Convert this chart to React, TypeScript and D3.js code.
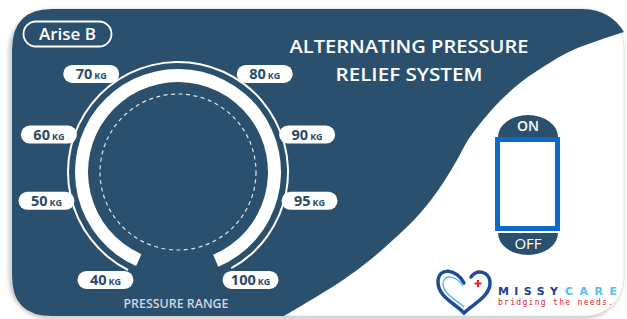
import React from 'react';
import * as d3 from 'd3';

// dial labels (kg)
const weights = ['40', '50', '60', '70', '80', '90', '95', '100'];
const unitLabel = 'KG';
const titleLines = ['ALTERNATING PRESSURE', 'RELIEF SYSTEM'];
const modelName = 'Arise B';
const dialCaption = 'PRESSURE RANGE';
const switchLabels = ['ON', 'OFF'];
const brandWords = ['MISSY', 'CARE'];
const brandTagline = 'bridging the needs.';

const W = 627;
const H = 319;
const navy = '#2b506e';
const labelInk = '#2c4a65';
const rad = (deg: number) => (deg * Math.PI) / 180;

// dial geometry
const cx = 178;
const cy = 172;
const angleScale = d3
  .scaleOrdinal<string, number>()
  .domain(weights)
  .range([-147.5, -103, -73, -40, 40, 73, 103, 147.5]);
const labelRx = 135;
const labelRy = 128;

// right edge of the dark area
const waveEdge: [number, number][] = [
  [624, 32], [573, 50], [543, 67], [520, 83], [501, 100], [483, 120],
  [468, 140], [457, 160], [445, 180], [431, 200], [414, 220], [393, 240],
  [370, 260], [343, 280], [311, 300], [284, 316],
];

const App = () => {
  const edge = d3.line().curve(d3.curveCatmullRom)(waveEdge) as string;
  const darkPath =
    'M12,50 Q12,9 52,9 L583,9 Q611,10 624,32 ' +
    edge.replace(/^M[^C]*/, '') +
    ' L52,316 Q12,316 12,276 Z';

  const thickArc = d3.arc()({
    innerRadius: 90,
    outerRadius: 103,
    startAngle: rad(-156),
    endAngle: rad(157),
  }) as string;
  const thinArc = d3.arc()({
    innerRadius: 109,
    outerRadius: 111,
    startAngle: rad(-153),
    endAngle: rad(151),
  }) as string;

  return (
    <svg
      width={W}
      height={H}
      viewBox={`0 0 ${W} ${H}`}
      style={{ position: 'absolute', left: 0, top: 0, background: '#fff' }}
      fontFamily="'Open Sans', sans-serif"
    >
      <defs>
        <filter id="shadow" x="-5%" y="-5%" width="110%" height="115%">
          <feDropShadow dx="-2" dy="2" stdDeviation="2" floodColor="#888" floodOpacity="0.55" />
        </filter>
      </defs>

      {/* panel body */}
      <rect x={12} y={9} width={612} height={307} rx={38} fill="#fff" stroke="#e2e2e2" filter="url(#shadow)" />
      <path d={darkPath} fill={navy} />

      {/* model badge */}
      <rect x={23.5} y={21.5} width={88} height={25} rx={12.5} fill="none" stroke="#fff" strokeWidth={1.8} />
      <text x={67.5} y={40} textAnchor="middle" fill="#fff" fontSize={17} fontWeight={600}>
        {modelName}
      </text>

      {/* title */}
      {titleLines.map((t, i) => (
        <text
          key={t}
          x={409}
          y={53 + i * 28}
          textAnchor="middle"
          fill="#fff"
          fontSize={18}
          fontWeight={600}
          textLength={i === 0 ? 239 : 147}
          lengthAdjust="spacingAndGlyphs"
        >
          {t}
        </text>
      ))}

      {/* dial */}
      <g transform={`translate(${cx},${cy})`}>
        <path d={thinArc} fill="#fff" />
        <path d={thickArc} fill="#fff" />
        <circle r={78} fill="none" stroke="#fff" strokeOpacity={0.85} strokeWidth={1.2} strokeDasharray="4 3.5" />
        {weights.map((w) => {
          const a = rad(angleScale(w));
          const x = labelRx * Math.sin(a);
          const y = -labelRy * Math.cos(a);
          return (
            <g key={w} transform={`translate(${x},${y})`}>
              <rect x={-28} y={-9} width={56} height={18} rx={9} fill="#fff" />
              <text y={5} textAnchor="middle" fill={labelInk} fontWeight={700}>
                <tspan fontSize={14.5}>{w}</tspan>
                <tspan fontSize={9} dx={2}>{unitLabel}</tspan>
              </text>
            </g>
          );
        })}
      </g>
      <text
        x={176}
        y={308}
        textAnchor="middle"
        fill="#cdd8e3"
        fontSize={12}
        fontWeight={600}
        textLength={105}
        lengthAdjust="spacingAndGlyphs"
      >
        {dialCaption}
      </text>

      {/* rocker switch */}
      <path d="M498,137 A30,22 0 0 1 558,137 Z" fill={navy} />
      <text x={528} y={131} textAnchor="middle" fill="#fff" fontSize={14} fontWeight={600}>
        {switchLabels[0]}
      </text>
      <rect x={497.5} y={139.5} width={60} height={89} fill="#fff" stroke="#0b6bc6" strokeWidth={5} />
      <path d="M498,233 A30,22 0 0 0 558,233 Z" fill={navy} />
      <text x={528} y={249} textAnchor="middle" fill="#fff" fontSize={15}>
        {switchLabels[1]}
      </text>

      {/* logo */}
      <g>
        <path
          d="M464,283 C457,269 438,266 438,282 C438,297 456,304 464,313 C473,304 491,296 490,282 C489,271 477,269 471,277"
          fill="none"
          stroke="#1d4c9b"
          strokeWidth={3.5}
          strokeLinecap="round"
        />
        <path
          d="M463,286 C457,276 443,273 443,284 C443,294 457,300 464,307"
          fill="none"
          stroke="#55b5e8"
          strokeWidth={1.4}
        />
        <path d="M478,280 v7 M474.5,283.5 h7" stroke="#e0202e" strokeWidth={2} />
        <text x={498} y={295} fill="#1b3f8c" fontSize={11} fontWeight={700} fontFamily="'DejaVu Sans', sans-serif" textLength={60} lengthAdjust="spacing">
          {brandWords[0]}
        </text>
        <text x={565} y={295} fill="#5bbde8" fontSize={11} fontWeight={700} fontFamily="'DejaVu Sans', sans-serif" textLength={52} lengthAdjust="spacing">
          {brandWords[1]}
        </text>
        <text x={498} y={305} fill="#d4283a" fontSize={8} fontFamily="'DejaVu Sans Mono', monospace" textLength={115} lengthAdjust="spacing">
          {brandTagline}
        </text>
      </g>
    </svg>
  );
};

export default App;
